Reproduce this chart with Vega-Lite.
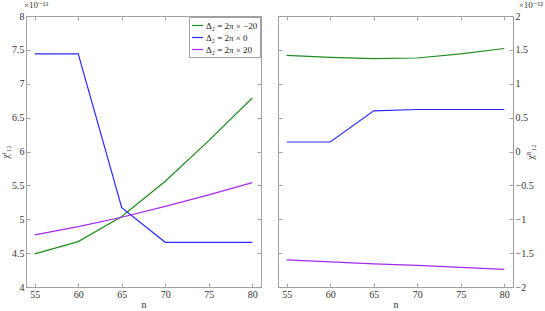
{
  "$schema": "https://vega.github.io/schema/vega-lite/v6.json",
  "padding": {"left": 0, "top": 0, "right": 0, "bottom": 0},
  "background": "white",
  "datasets": {
    "imag": [
      {"n": 55, "series": "Δ₂ = 2π × −20", "value": 4.49},
      {"n": 60, "series": "Δ₂ = 2π × −20", "value": 4.67},
      {"n": 65, "series": "Δ₂ = 2π × −20", "value": 5.04},
      {"n": 70, "series": "Δ₂ = 2π × −20", "value": 5.56},
      {"n": 75, "series": "Δ₂ = 2π × −20", "value": 6.16},
      {"n": 80, "series": "Δ₂ = 2π × −20", "value": 6.79},
      {"n": 55, "series": "Δ₂ = 2π × 0", "value": 7.44},
      {"n": 60, "series": "Δ₂ = 2π × 0", "value": 7.44},
      {"n": 65, "series": "Δ₂ = 2π × 0", "value": 5.17},
      {"n": 70, "series": "Δ₂ = 2π × 0", "value": 4.66},
      {"n": 75, "series": "Δ₂ = 2π × 0", "value": 4.66},
      {"n": 80, "series": "Δ₂ = 2π × 0", "value": 4.66},
      {"n": 55, "series": "Δ₂ = 2π × 20", "value": 4.77},
      {"n": 60, "series": "Δ₂ = 2π × 20", "value": 4.89},
      {"n": 65, "series": "Δ₂ = 2π × 20", "value": 5.03},
      {"n": 70, "series": "Δ₂ = 2π × 20", "value": 5.19},
      {"n": 75, "series": "Δ₂ = 2π × 20", "value": 5.36},
      {"n": 80, "series": "Δ₂ = 2π × 20", "value": 5.54}
    ],
    "real": [
      {"n": 55, "series": "Δ₂ = 2π × −20", "value": 1.42},
      {"n": 60, "series": "Δ₂ = 2π × −20", "value": 1.39},
      {"n": 65, "series": "Δ₂ = 2π × −20", "value": 1.37},
      {"n": 70, "series": "Δ₂ = 2π × −20", "value": 1.38},
      {"n": 75, "series": "Δ₂ = 2π × −20", "value": 1.44},
      {"n": 80, "series": "Δ₂ = 2π × −20", "value": 1.52},
      {"n": 55, "series": "Δ₂ = 2π × 0", "value": 0.14},
      {"n": 60, "series": "Δ₂ = 2π × 0", "value": 0.14},
      {"n": 65, "series": "Δ₂ = 2π × 0", "value": 0.6},
      {"n": 70, "series": "Δ₂ = 2π × 0", "value": 0.62},
      {"n": 75, "series": "Δ₂ = 2π × 0", "value": 0.62},
      {"n": 80, "series": "Δ₂ = 2π × 0", "value": 0.62},
      {"n": 55, "series": "Δ₂ = 2π × 20", "value": -1.6},
      {"n": 60, "series": "Δ₂ = 2π × 20", "value": -1.63},
      {"n": 65, "series": "Δ₂ = 2π × 20", "value": -1.66},
      {"n": 70, "series": "Δ₂ = 2π × 20", "value": -1.68},
      {"n": 75, "series": "Δ₂ = 2π × 20", "value": -1.71},
      {"n": 80, "series": "Δ₂ = 2π × 20", "value": -1.74}
    ]
  },
  "config": {
    "font": "Liberation Serif, DejaVu Serif, serif",
    "view": {"stroke": "#a0a0a0", "strokeWidth": 1},
    "concat": {"spacing": 15},
    "axis": {
      "grid": false,
      "domainColor": "#a0a0a0",
      "tickColor": "#a0a0a0",
      "tickSize": -4,
      "labelPadding": 6,
      "labelFont": "Liberation Serif, DejaVu Serif, serif",
      "labelFontSize": 10,
      "labelColor": "#333333",
      "titleFont": "Liberation Serif, DejaVu Serif, serif",
      "titleFontSize": 10,
      "titleFontWeight": "normal",
      "titleColor": "#333333"
    },
    "legend": {"labelFont": "Liberation Serif, DejaVu Serif, serif"},
    "title": {"font": "Liberation Serif, DejaVu Serif, serif", "fontSize": 9, "fontWeight": "normal", "color": "#333333", "offset": 1, "frame": "group"}
  },
  "resolve": {"legend": {"color": "independent"}, "scale": {"color": "independent"}},
  "hconcat": [
    {
      "width": 235,
      "height": 271,
      "title": {"text": "×10⁻¹³", "anchor": "start", "dx": -2},
      "data": {"name": "imag"},
      "layer": [
        {
          "mark": {"type": "line", "strokeWidth": 1.2},
          "encoding": {
            "x": {"field": "n", "type": "quantitative", "scale": {"domain": [54, 81], "nice": false}, "axis": {"values": [55, 60, 65, 70, 75, 80], "title": "n", "titlePadding": 0}},
            "y": {"field": "value", "type": "quantitative", "scale": {"domain": [4, 8], "nice": false}, "axis": {"values": [4, 4.5, 5, 5.5, 6, 6.5, 7, 7.5, 8], "format": "~g", "title": "χᴵ₁₂", "titlePadding": 1}},
            "color": {
              "field": "series", "type": "nominal",
              "scale": {"domain": ["Δ₂ = 2π × −20", "Δ₂ = 2π × 0", "Δ₂ = 2π × 20"], "range": ["#1e8c1e", "#2a2aff", "#a52aef"]},
              "legend": {"title": null, "orient": "top-right", "offset": 1, "strokeColor": "#a0a0a0", "fillColor": "white", "padding": 2, "symbolType": "stroke", "symbolSize": 120, "symbolStrokeWidth": 1.2, "labelFontSize": 9, "labelColor": "#222222", "rowPadding": 0, "labelOffset": 2}
            }
          }
        },
        {
          "mark": {"type": "line", "opacity": 0},
          "encoding": {
            "x": {"field": "n", "type": "quantitative", "scale": {"domain": [54, 81], "nice": false}, "axis": {"orient": "top", "values": [55, 60, 65, 70, 75, 80], "labels": false, "title": null}},
            "y": {"field": "value", "type": "quantitative", "scale": {"domain": [4, 8], "nice": false}, "axis": {"orient": "right", "values": [4, 4.5, 5, 5.5, 6, 6.5, 7, 7.5, 8], "labels": false, "title": null}},
            "detail": {"field": "series"}
          }
        }
      ],
      "resolve": {"scale": {"x": "independent", "y": "independent"}}
    },
    {
      "width": 235,
      "height": 271,
      "title": {"text": "×10⁻¹²", "anchor": "end", "dx": 30},
      "data": {"name": "real"},
      "layer": [
        {
          "mark": {"type": "line", "strokeWidth": 1.2},
          "encoding": {
            "x": {"field": "n", "type": "quantitative", "scale": {"domain": [54, 81], "nice": false}, "axis": {"values": [55, 60, 65, 70, 75, 80], "title": "n", "titlePadding": 0}},
            "y": {"field": "value", "type": "quantitative", "scale": {"domain": [-2, 2], "nice": false}, "axis": {"orient": "right", "values": [-2, -1.5, -1, -0.5, 0, 0.5, 1, 1.5, 2], "format": "~g", "title": "χᴿ₁₂", "titleAngle": 270, "titlePadding": 2}},
            "color": {
              "field": "series", "type": "nominal",
              "scale": {"domain": ["Δ₂ = 2π × −20", "Δ₂ = 2π × 0", "Δ₂ = 2π × 20"], "range": ["#1e8c1e", "#2a2aff", "#a52aef"]},
              "legend": null
            }
          }
        },
        {
          "mark": {"type": "line", "opacity": 0},
          "encoding": {
            "x": {"field": "n", "type": "quantitative", "scale": {"domain": [54, 81], "nice": false}, "axis": {"orient": "top", "values": [55, 60, 65, 70, 75, 80], "labels": false, "title": null}},
            "y": {"field": "value", "type": "quantitative", "scale": {"domain": [-2, 2], "nice": false}, "axis": {"orient": "left", "values": [-2, -1.5, -1, -0.5, 0, 0.5, 1, 1.5, 2], "labels": false, "title": null}},
            "detail": {"field": "series"}
          }
        }
      ],
      "resolve": {"scale": {"x": "independent", "y": "independent"}}
    }
  ]
}
